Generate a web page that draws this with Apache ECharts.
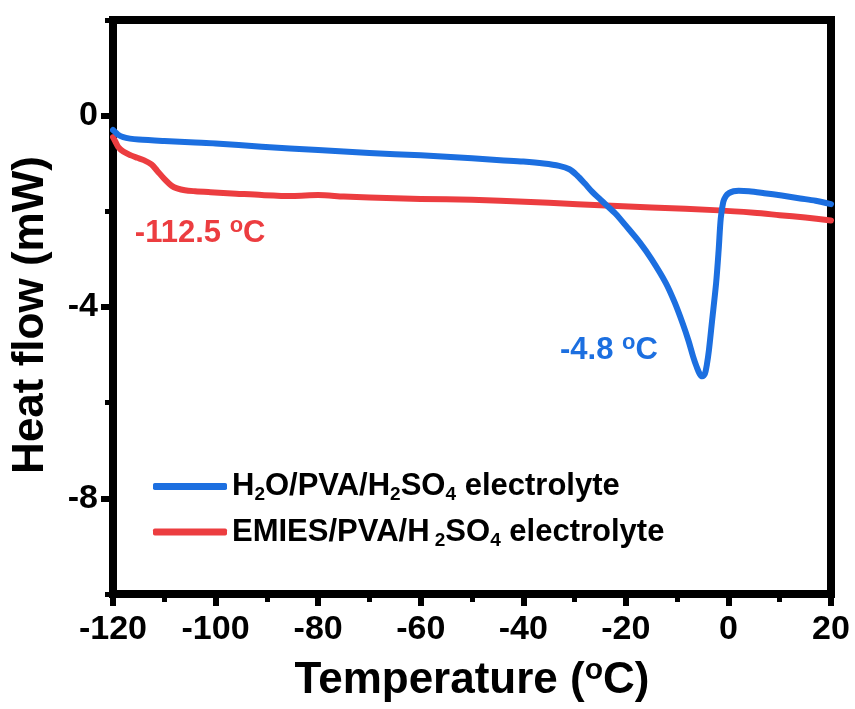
<!DOCTYPE html>
<html>
<head>
<meta charset="utf-8">
<script src="https://cdn.jsdelivr.net/npm/echarts@6/dist/echarts.min.js"></script>
<style>
  html, body { margin: 0; padding: 0; background: #fff; }
  #chart { width: 855px; height: 709px; }
</style>
</head>
<body>
<div id="chart"></div>
<script>
// ---- data ----
var blueTemp = [-120, -119.5, -119, -118, -116.7, -115, -110, -104, -100, -91, -80, -70, -60, -50, -44.5, -40, -36, -33, -31, -29.5, -28, -26.5, -25, -23.9, -22, -20, -17.3, -15, -12.2, -10.5, -8.9, -7.8, -6.9, -6.2, -5.6, -5.1, -4.6, -4.2, -3.8, -3.2, -2.4, -1.9, -1.5, -1.0, -0.5, 0.1, 1, 2, 4, 7, 10.4, 14, 17, 20];
var blueHeat = [-0.3, -0.35, -0.4, -0.45, -0.48, -0.5, -0.53, -0.56, -0.58, -0.65, -0.72, -0.78, -0.83, -0.89, -0.93, -0.96, -1.0, -1.05, -1.12, -1.25, -1.42, -1.6, -1.75, -1.86, -2.05, -2.3, -2.65, -3.0, -3.5, -3.9, -4.35, -4.7, -5.03, -5.25, -5.4, -5.45, -5.4, -5.2, -4.9, -4.3, -3.5, -2.8, -2.15, -1.8, -1.68, -1.62, -1.58, -1.57, -1.58, -1.62, -1.67, -1.73, -1.78, -1.85];

var redTemp = [-120, -119.5, -119, -118, -116.5, -115.3, -114, -112.5, -111.4, -110, -108.5, -107.5, -106, -104, -101, -96, -91, -85, -80, -75, -70, -60, -50, -44.5, -35, -23.9, -15, -1.8, 5, 10, 15, 20];
var redHeat = [-0.45, -0.55, -0.65, -0.75, -0.83, -0.88, -0.93, -1.02, -1.15, -1.32, -1.47, -1.52, -1.56, -1.58, -1.6, -1.63, -1.66, -1.68, -1.66, -1.69, -1.71, -1.74, -1.76, -1.78, -1.82, -1.88, -1.92, -1.98, -2.03, -2.08, -2.13, -2.19];

var yMajorTicks = [0, -4, -8];
var seriesNames = ['H2O/PVA/H2SO4 electrolyte', 'EMIES/PVA/H2SO4 electrolyte'];
var blueNote = { temp: -23.3, heat: -4.9, text: '-4.8 ' };
var redNote = { temp: -103, heat: -2.46, text: '-112.5 ' };

// ---- build ----
function zip(xs, ys) { return xs.map(function (x, i) { return [x, ys[i]]; }); }

var BLUE = '#1c6fe0';
var RED = '#ec3d40';
var FONT = '"Liberation Sans", Arial, Helvetica, sans-serif';

var legendRich = {
  n: { fontSize: 31, fontWeight: 'bold', fontFamily: FONT, color: '#000', lineHeight: 36 },
  s: { fontSize: 19, fontWeight: 'bold', fontFamily: FONT, color: '#000', lineHeight: 18, verticalAlign: 'bottom' }
};
function legendFmt(name) {
  if (name === seriesNames[0]) {
    return '{n|H}{s|2}{n|O/PVA/H}{s|2}{n|SO}{s|4}{n| electrolyte}';
  }
  return '{n|EMIES/PVA/H}{s| 2}{n|SO}{s|4}{n| electrolyte}';
}

function noteRich(color) {
  return {
    n: { fontSize: 31, fontWeight: 'bold', fontFamily: FONT, color: color, lineHeight: 36 },
    sup: { fontSize: 22, fontWeight: 'bold', fontFamily: FONT, color: color, lineHeight: 24, verticalAlign: 'top' }
  };
}

var chart = echarts.init(document.getElementById('chart'), null, { renderer: 'canvas' });
chart.setOption({
  animation: false,
  backgroundColor: '#fff',
  grid: { left: 113, right: 24, top: 20, bottom: 115, show: true, borderColor: '#000', borderWidth: 8, backgroundColor: 'transparent' },
  legend: {
    orient: 'vertical',
    left: 148, top: 466,
    itemWidth: 74, itemHeight: 7, itemGap: 12,
    icon: 'roundRect',
    data: seriesNames,
    formatter: legendFmt,
    textStyle: { rich: legendRich }
  },
  xAxis: {
    type: 'value', min: -120, max: 20, interval: 20,
    name: '{n|Temperature (}{sup|o}{n|C)}',
    nameLocation: 'middle', nameGap: 62,
    nameTextStyle: {
      rich: {
        n: { fontSize: 44, fontWeight: 'bold', fontFamily: FONT, color: '#000', lineHeight: 50 },
        sup: { fontSize: 30, fontWeight: 'bold', fontFamily: FONT, color: '#000', lineHeight: 32, verticalAlign: 'top' }
      }
    },
    axisLine: { show: true, onZero: false, lineStyle: { color: '#000', width: 8 } },
    axisTick: { show: true, inside: false, length: 12, lineStyle: { color: '#000', width: 6 } },
    minorTick: { show: true, splitNumber: 2, length: 8, lineStyle: { color: '#000', width: 5 } },
    axisLabel: { fontSize: 34, fontWeight: 'bold', fontFamily: FONT, color: '#000', margin: 19 },
    splitLine: { show: false }
  },
  yAxis: [{
    type: 'value', min: -10, max: 2, interval: 2,
    name: 'Heat flow (mW)',
    nameLocation: 'middle', nameGap: 60, nameRotate: 90,
    nameTextStyle: { fontSize: 44, fontWeight: 'bold', fontFamily: FONT, color: '#000', padding: [0, 16, 0, 0] },
    axisLine: { show: true, onZero: false, lineStyle: { color: '#000', width: 8 } },
    axisTick: { show: true, inside: false, length: 12, customValues: yMajorTicks, lineStyle: { color: '#000', width: 6 } },
    axisLabel: { fontSize: 34, fontWeight: 'bold', fontFamily: FONT, color: '#000', margin: 15, customValues: yMajorTicks },
    splitLine: { show: false }
  }, {
    type: 'value', min: -10, max: 2, interval: 4, position: 'left',
    axisLine: { show: false, onZero: false },
    axisTick: { show: true, inside: false, length: 8, lineStyle: { color: '#000', width: 5 } },
    axisLabel: { show: false },
    splitLine: { show: false }
  }],
  series: [{
    name: seriesNames[0], type: 'line', data: zip(blueTemp, blueHeat),
    smooth: 0.3, showSymbol: false, symbol: 'none',
    lineStyle: { color: BLUE, width: 6, cap: 'round', join: 'round' },
    itemStyle: { color: BLUE },
    z: 3,
    markPoint: {
      symbol: 'circle', symbolSize: 0,
      data: [{ coord: [blueNote.temp, blueNote.heat], value: 0 }],
      label: { show: true, position: 'inside', formatter: '{n|' + blueNote.text + '}{sup|o}{n|C}', rich: noteRich(BLUE) }
    }
  }, {
    name: seriesNames[1], type: 'line', data: zip(redTemp, redHeat),
    smooth: 0.3, showSymbol: false, symbol: 'none',
    lineStyle: { color: RED, width: 6, cap: 'round', join: 'round' },
    itemStyle: { color: RED },
    z: 2,
    markPoint: {
      symbol: 'circle', symbolSize: 0,
      data: [{ coord: [redNote.temp, redNote.heat], value: 0 }],
      label: { show: true, position: 'inside', formatter: '{n|' + redNote.text + '}{sup|o}{n|C}', rich: noteRich(RED) }
    }
  }]
});
</script>
</body>
</html>
